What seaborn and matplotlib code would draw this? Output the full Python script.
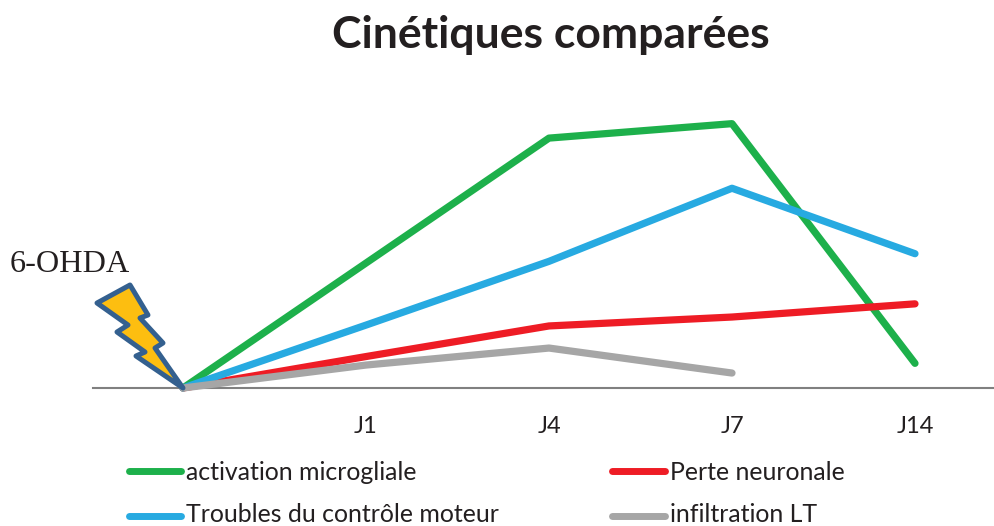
import numpy as np
import pandas as pd
import seaborn as sns
import matplotlib.pyplot as plt
from matplotlib.patches import Polygon

days = ["", "J1", "J4", "J7", "J14"]
microglie = [0, 1.47, 2.94, 3.11, 0.29]
moteur = [0, 0.74, 1.49, 2.35, 1.58]
neurones = [0, 0.37, 0.73, 0.835, 0.99]
lt = [0, 0.27, 0.47, 0.176, np.nan]

series_names = ["activation microgliale", "Perte neuronale",
                "Troubles du contrôle moteur", "infiltration LT"]
series_colors = ["#1db04b", "#ee1c25", "#27aae1", "#a6a6a6"]

# lightning bolt outline, in pixels of the 995x526 picture
bolt_px = [(97, 303), (130, 285), (148, 315), (140, 318), (163, 343),
           (155, 348), (183, 388), (136, 356), (145, 352), (117, 332),
           (128, 325)]

df = pd.DataFrame({"x": np.arange(5),
                   series_names[0]: microglie,
                   series_names[1]: neurones,
                   series_names[2]: moteur,
                   series_names[3]: lt})
df = df.melt(id_vars="x", var_name="serie", value_name="val")

sns.set_style("white")
plt.rcParams['font.family'] = ['Lato', 'DejaVu Sans']

fig = plt.figure(figsize=(9.95, 5.26), dpi=100)
# x: 0 at 183 px, 4 at 915 px; y: 0 at 388 px, 1 unit = 85 px
ax = fig.add_axes([93/995, 1-388/526, (995-93)/995, 388/526])
ax.patch.set_alpha(0)
ax.set_xlim((93-183)/183.0, (995-183)/183.0)
ax.set_ylim(0, 388/85.0)

sns.lineplot(data=df, x="x", y="val", hue="serie", hue_order=series_names,
             palette=series_colors, linewidth=5.2, legend=False, ax=ax,
             errorbar=None, solid_joinstyle="round", solid_capstyle="round")
# line drawing order as in the reference
for ln, z in zip(ax.get_lines(), [3, 4, 5, 6]):
    ln.set_zorder(z)
    ln.set_clip_on(False)

ax.set_xticks(range(5))
ax.set_xticklabels(days, fontsize=17, color="#231f20")
ax.tick_params(axis="x", length=0, pad=20)
ax.set_yticks([])
ax.set_xlabel("")
ax.set_ylabel("")
for s in ["top", "right", "left"]:
    ax.spines[s].set_visible(False)
ax.spines["bottom"].set_color("#808080")
ax.spines["bottom"].set_linewidth(1.5)

fig.text(551/995, 1-35/526, "Cinétiques comparées", fontsize=32, fontweight="bold",
         ha="center", va="center", color="#231f20")
fig.text(10/995, 1-265/526, "6-OHDA", fontsize=23.2, family="Liberation Serif",
         ha="left", va="center", color="#231f20")

bolt = [(px/995, 1-py/526) for px, py in bolt_px]
fig.add_artist(Polygon(bolt, closed=True, transform=fig.transFigure, facecolor="#fdbe10",
                       edgecolor="#34608f", linewidth=3.6, joinstyle="round", zorder=10))

# legend drawn by hand to keep the reference placement
leg_x = [(129, 181), (612, 665), (129, 181), (612, 665)]
leg_y = [471, 471, 516, 516]
text_y = [472.5, 472.5, 514.5, 514.5]
for name, col, (x0, x1), y, ty in zip(series_names, series_colors, leg_x, leg_y, text_y):
    fig.add_artist(plt.Line2D([x0/995, x1/995], [1-y/526, 1-y/526], color=col, linewidth=5,
                              solid_capstyle="round", transform=fig.transFigure))
    fig.text((x1+5)/995, 1-ty/526, name, fontsize=17.9, ha="left", va="center", color="#231f20")

fig.savefig("out.png", dpi=100)
